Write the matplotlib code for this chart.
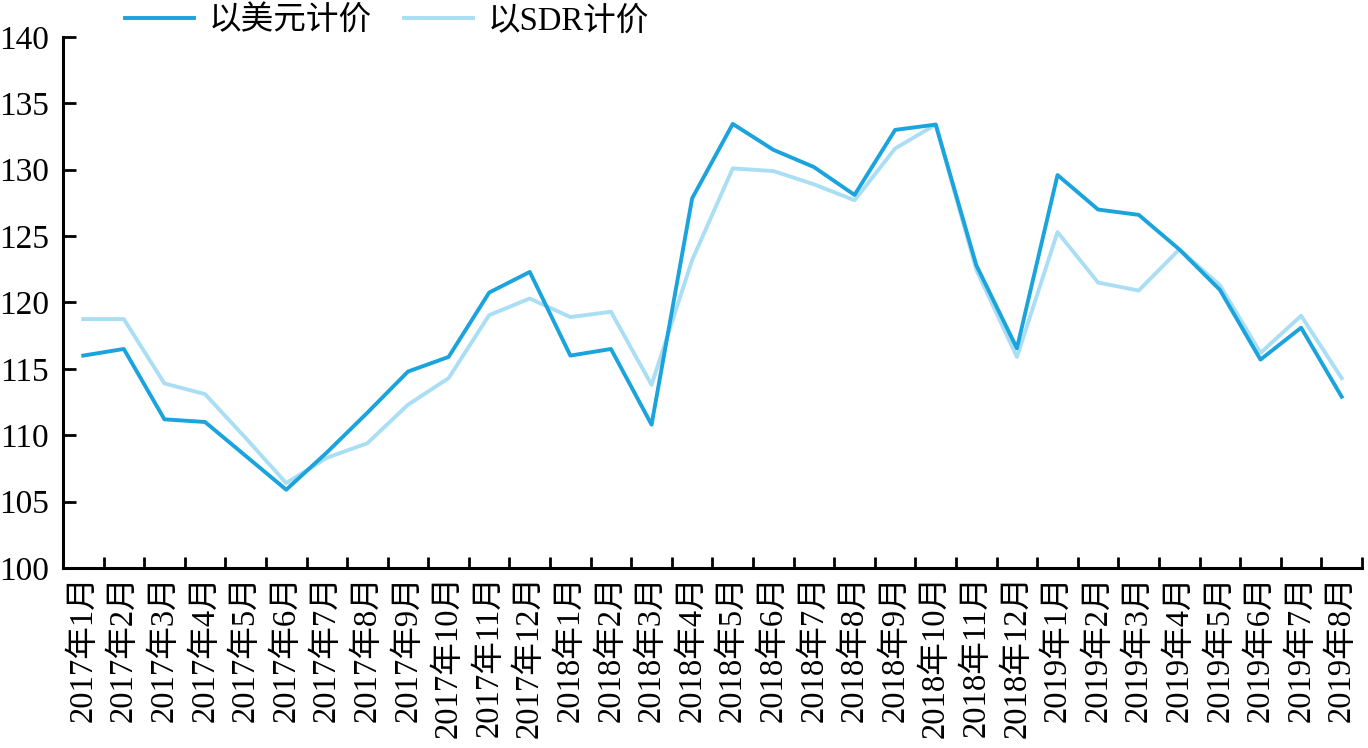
import matplotlib
matplotlib.use("Agg")
import matplotlib.pyplot as plt
import numpy as np

plt.rcParams['font.family'] = ['Liberation Serif', 'Noto Sans CJK SC', 'DejaVu Sans']

# months 2017-01 .. 2019-08
months = ["2017年1月", "2017年2月", "2017年3月", "2017年4月", "2017年5月", "2017年6月",
          "2017年7月", "2017年8月", "2017年9月", "2017年10月", "2017年11月", "2017年12月",
          "2018年1月", "2018年2月", "2018年3月", "2018年4月", "2018年5月", "2018年6月",
          "2018年7月", "2018年8月", "2018年9月", "2018年10月", "2018年11月", "2018年12月",
          "2019年1月", "2019年2月", "2019年3月", "2019年4月", "2019年5月", "2019年6月",
          "2019年7月", "2019年8月"]

usd = [116.0, 116.5, 111.2, 111.0, 108.45, 105.9, 108.7, 111.7, 114.8, 115.9, 120.75, 122.3,
       116.0, 116.5, 110.8, 127.85, 133.45, 131.5, 130.2, 128.1, 133.0, 133.4, 122.8, 116.55,
       129.6, 127.0, 126.6, 124.0, 120.95, 115.7, 118.1, 112.9]

sdr = [118.75, 118.75, 113.9, 113.1, 109.8, 106.4, 108.3, 109.4, 112.3, 114.3, 119.05, 120.3,
       118.9, 119.3, 113.8, 123.2, 130.1, 129.9, 128.9, 127.7, 131.6, 133.4, 122.45, 115.9,
       125.3, 121.5, 120.9, 124.0, 121.3, 116.2, 119.0, 114.3]

series_labels = ["以美元计价", "以SDR计价"]

fig = plt.figure(figsize=(13.68, 7.48), dpi=100)
ax = fig.add_axes([0.046, 0.2406, 0.9496, 0.71])

x = np.arange(len(months))
ax.plot(x, usd, color="#1aa3dc", lw=2.8, label=series_labels[0], zorder=3)
ax.plot(x, sdr, color="#a9def4", lw=2.8, label=series_labels[1], zorder=2)

ax.set_xlim(-0.5, len(months) - 0.5)
ax.set_ylim(100, 140)
ax.set_yticks(np.arange(100, 141, 5))
ax.tick_params(axis='y', direction='in', length=9, width=2, labelsize=24, pad=10)

# labels at category centres, ticks at category boundaries
ax.set_xticks(x)
ax.set_xticklabels(months, rotation=90, fontsize=23.5)
ax.tick_params(axis='x', which='major', length=0, pad=5)
ax.set_xticks(np.arange(-0.5, len(months), 1), minor=True)
ax.tick_params(axis='x', which='minor', direction='in', length=8, width=2)

for side in ["top", "right"]:
    ax.spines[side].set_visible(False)
for side in ["left", "bottom"]:
    ax.spines[side].set_linewidth(2.2)

fig.legend(loc='center left', bbox_to_anchor=(125 / 1368, 1 - 21 / 748), ncol=2,
           frameon=False, borderpad=0, borderaxespad=0, fontsize=23.5, handlelength=2.1,
           handletextpad=0.45, columnspacing=1.0)

fig.savefig("out.png", dpi=100)
